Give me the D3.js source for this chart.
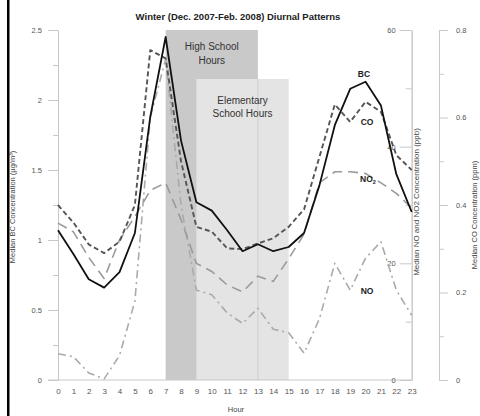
<!DOCTYPE html>
<html>
<head>
<meta charset="utf-8">
<script src="https://cdn.jsdelivr.net/npm/d3@7"></script>
<style>
body { margin: 0; background: #fff; }
svg { display: block; font-family: "Liberation Sans", Arial, sans-serif; }
.axis path, .axis line { stroke: #c8c8c8; }
.axis text { fill: #555; font-size: 7.5px; }
.axis.x text { font-size: 8px; }
</style>
</head>
<body>
<div id="chart"></div>
<script>
var hours = d3.range(0, 24);
var bc  = [1.07, 0.90, 0.72, 0.66, 0.77, 1.05, 1.88, 2.45, 1.71, 1.27, 1.21, 1.07, 0.92, 0.97, 0.92, 0.95, 1.05, 1.39, 1.82, 2.08, 2.13, 1.96, 1.47, 1.20];
var co  = [0.40, 0.36, 0.31, 0.29, 0.316, 0.40, 0.754, 0.735, 0.50, 0.35, 0.339, 0.301, 0.299, 0.312, 0.324, 0.35, 0.39, 0.51, 0.63, 0.59, 0.636, 0.613, 0.514, 0.48];
var no2 = [26.9, 25.4, 21, 17.4, 24, 28, 32.5, 33.8, 27.5, 20, 18.6, 16.3, 15.1, 17.8, 16.9, 20.8, 25, 33.8, 35.7, 35.7, 35.4, 33.8, 32, 29.5];
var no  = [4.5, 4.0, 1.2, 0.2, 4.2, 13.5, 45, 55, 30, 15.4, 14.6, 11.5, 9.7, 12.3, 8.7, 8.1, 4.6, 10.5, 20, 15.4, 20.9, 23.7, 15.4, 11.1];
var bcTicks = [0, 0.5, 1, 1.5, 2, 2.5];
var bcMinor = [0.25, 0.75, 1.25, 1.75, 2.25];
var noTicks = [0, 20, 40, 60];
var noMinor = [10, 30, 50];
var coTicks = [0, 0.2, 0.4, 0.6, 0.8];
var coMinor = [0.1, 0.3, 0.5, 0.7];
var highSchool = [7, 13];
var elementary = [9, 15];

var width = 480, height = 416;
var svg = d3.select("#chart").append("svg").attr("width", width).attr("height", height);

var x = d3.scaleLinear().domain([0, 23]).range([58, 411.7]);
var yBC = d3.scaleLinear().domain([0, 2.5]).range([380, 30]);
var yNO = d3.scaleLinear().domain([0, 60]).range([380, 30]);
var yCO = d3.scaleLinear().domain([0, 0.8]).range([380, 30]);

// school hour boxes
svg.append("rect")
    .attr("x", x(highSchool[0])).attr("y", 30)
    .attr("width", x(highSchool[1]) - x(highSchool[0])).attr("height", 380 - 30)
    .attr("fill", "#c9c9c9");
svg.append("rect")
    .attr("x", x(elementary[0])).attr("y", 79)
    .attr("width", x(elementary[1]) - x(elementary[0])).attr("height", 380 - 79)
    .attr("fill", "#e4e4e4");
svg.append("line")
    .attr("x1", x(highSchool[1])).attr("x2", x(highSchool[1]))
    .attr("y1", 79).attr("y2", 380)
    .attr("stroke", "#cfcfcf").attr("stroke-width", 1);

svg.append("text").attr("x", (x(7) + x(13)) / 2).attr("y", 50)
    .attr("text-anchor", "middle").attr("font-size", 10).attr("fill", "#333")
    .text("High School");
svg.append("text").attr("x", (x(7) + x(13)) / 2).attr("y", 64)
    .attr("text-anchor", "middle").attr("font-size", 10).attr("fill", "#333")
    .text("Hours");
svg.append("text").attr("x", (x(9) + x(15)) / 2).attr("y", 104)
    .attr("text-anchor", "middle").attr("font-size", 10).attr("fill", "#333")
    .text("Elementary");
svg.append("text").attr("x", (x(9) + x(15)) / 2).attr("y", 117)
    .attr("text-anchor", "middle").attr("font-size", 10).attr("fill", "#333")
    .text("School Hours");

// axes
svg.append("line").attr("x1", 48).attr("x2", 411.7).attr("y1", 380).attr("y2", 380)
    .attr("stroke", "#c8c8c8");

svg.append("g").attr("class", "axis").attr("transform", "translate(58,0)")
    .call(d3.axisLeft(yBC).tickValues(bcTicks).tickSize(10).tickSizeOuter(0).tickPadding(6)
        .tickFormat(d3.format("")));
svg.append("g").attr("class", "axis").attr("transform", "translate(58,0)")
    .call(d3.axisLeft(yBC).tickValues(bcMinor).tickSize(5).tickSizeOuter(0).tickFormat(""));

svg.append("g").attr("class", "axis").attr("transform", "translate(411.7,0)")
    .call(d3.axisLeft(yNO).tickValues(noTicks).tickSize(12).tickSizeOuter(0).tickPadding(4));
svg.append("g").attr("class", "axis").attr("transform", "translate(411.7,0)")
    .call(d3.axisLeft(yNO).tickValues(noMinor).tickSize(6).tickSizeOuter(0).tickFormat(""));

svg.append("g").attr("class", "axis").attr("transform", "translate(439,0)")
    .call(d3.axisRight(yCO).tickValues(coTicks).tickSize(9).tickSizeOuter(0).tickPadding(8)
        .tickFormat(d3.format("")));
svg.append("g").attr("class", "axis").attr("transform", "translate(439,0)")
    .call(d3.axisRight(yCO).tickValues(coMinor).tickSize(5).tickSizeOuter(0).tickFormat(""));

var xAxis = svg.append("g").attr("class", "axis x").attr("transform", "translate(0,380)")
    .call(d3.axisBottom(x).tickValues(hours).tickSize(0).tickPadding(8));
xAxis.select(".domain").remove();

// series lines
function drawLine(vals, yScale, color, dash, w) {
    var line = d3.line().x(function(d, i) { return x(hours[i]); }).y(function(d) { return yScale(d); });
    svg.append("path").datum(vals)
        .attr("d", line)
        .attr("fill", "none")
        .attr("stroke", color)
        .attr("stroke-width", w)
        .attr("stroke-dasharray", dash)
        .attr("stroke-linejoin", "round");
}
drawLine(no, yNO, "#aaaaaa", "8,4,2,4", 1.6);
drawLine(no2, yNO, "#9a9a9a", "10,6", 1.6);
drawLine(co, yCO, "#555555", "5,3", 1.9);
drawLine(bc, yBC, "#111111", null, 1.8);

// series labels
function label(txt, lx, ly, sub) {
    var t = svg.append("text").attr("x", lx).attr("y", ly).attr("text-anchor", "middle")
        .attr("font-size", 8.5).attr("font-weight", "bold").attr("fill", "#222").text(txt);
    if (sub) t.append("tspan").attr("font-size", 5.5).attr("dy", 2).text(sub);
}
label("BC", 364, 77);
label("CO", 367, 125);
label("NO", 368, 182, "2");
label("NO", 367, 294);

// titles
svg.append("text").attr("x", 238).attr("y", 20).attr("text-anchor", "middle")
    .attr("font-size", 9.5).attr("font-weight", "bold").attr("fill", "#222")
    .text("Winter (Dec. 2007-Feb. 2008) Diurnal Patterns");
svg.append("text").attr("x", 236).attr("y", 412).attr("text-anchor", "middle")
    .attr("font-size", 7.5).attr("fill", "#444").text("Hour");

svg.append("text").attr("transform", "translate(15,207) rotate(-90)")
    .attr("text-anchor", "middle").attr("font-size", 7.5).attr("fill", "#444")
    .text("Median BC Concentration (µg/m³)");
svg.append("text").attr("transform", "translate(419,202) rotate(-90)")
    .attr("text-anchor", "middle").attr("font-size", 8).attr("fill", "#444")
    .text("Median NO and NO2 Concentration (ppb)");
svg.append("text").attr("transform", "translate(477,215) rotate(-90)")
    .attr("text-anchor", "middle").attr("font-size", 7.5).attr("fill", "#444")
    .text("Median CO Concentration (ppm)");

// frame edge on the left
svg.append("rect").attr("x", 7).attr("y", 0).attr("width", 2.5).attr("height", height).attr("fill", "#000");
</script>
</body>
</html>
